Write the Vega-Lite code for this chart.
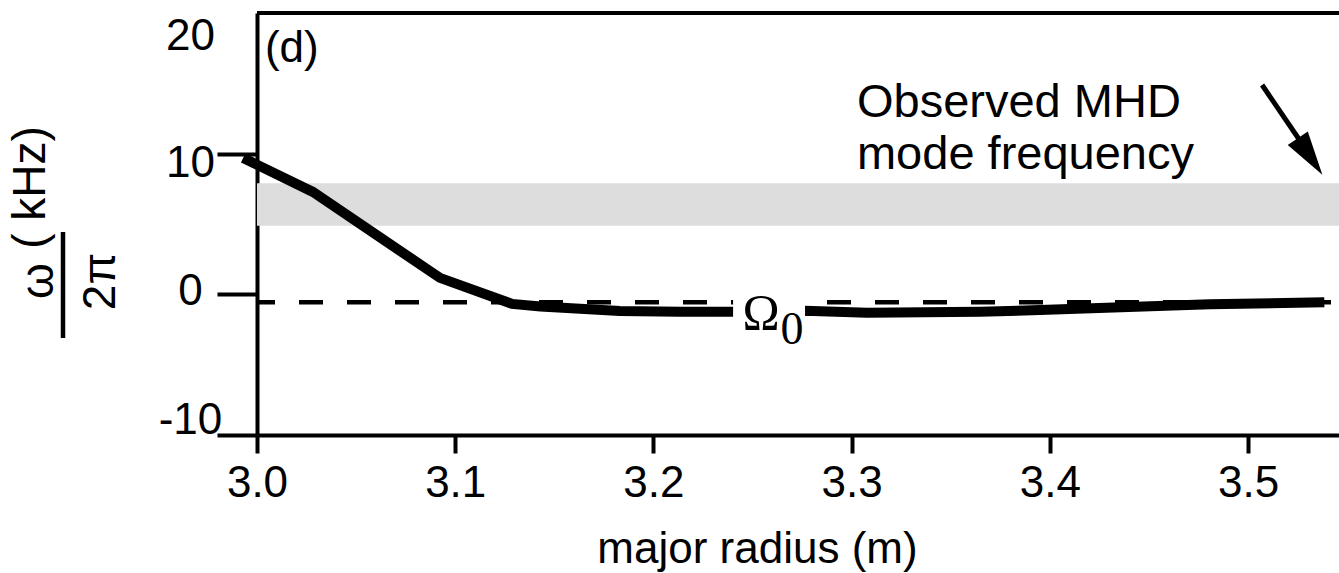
{
  "$schema": "https://vega.github.io/schema/vega-lite/v6.json",
  "width": 1082,
  "height": 422,
  "autosize": {"type": "none"},
  "padding": {"left": 257, "top": 13, "right": 0, "bottom": 138},
  "background": "white",
  "config": {
    "view": {"stroke": null},
    "axis": {
      "domainColor": "#000",
      "tickColor": "#000",
      "labelColor": "#000",
      "titleColor": "#000",
      "domainWidth": 4,
      "tickWidth": 4,
      "labelFont": "Liberation Sans",
      "labelFontSize": 44,
      "titleFont": "Liberation Sans",
      "titleFontSize": 44,
      "titleFontWeight": "normal",
      "grid": false,
      "labelFlush": false,
      "labelOverlap": false,
      "labelBound": false
    }
  },
  "encoding": {
    "x": {
      "field": "x",
      "type": "quantitative",
      "scale": {"domain": [3.0, 3.5459], "nice": false, "zero": false},
      "axis": {
        "values": [3.0, 3.1, 3.2, 3.3, 3.4, 3.5],
        "format": ".1f",
        "title": "major radius (m)",
        "tickSize": 18,
        "labelPadding": 8,
        "titleX": 500,
        "titleY": 127,
        "titleAlign": "center",
        "titleBaseline": "alphabetic"
      }
    },
    "y": {
      "field": "y",
      "type": "quantitative",
      "scale": {"domain": [-10, 20], "nice": false, "zero": false},
      "axis": {
        "values": [-10, 0, 10, 20],
        "labelExpr": "'' + datum.value",
        "title": null,
        "tickSize": 40,
        "labelAlign": "center",
        "labelBaseline": "middle",
        "labelPadding": 27,
        "labelOffset": {
          "condition": [
            {"test": "datum.value == 20", "value": 23},
            {"test": "datum.value == 10", "value": 10},
            {"test": "datum.value == -10", "value": -15}
          ],
          "value": -3
        },
        "tickOpacity": {"condition": {"test": "datum.value == 20", "value": 0}, "value": 1}
      }
    }
  },
  "layer": [
    {
      "data": {"values": [{"x": 3.0, "x2": 3.5459, "y": 4.88, "y2": 7.89}]},
      "mark": {"type": "rect", "color": "#dddddd"},
      "encoding": {"x2": {"field": "x2"}, "y2": {"field": "y2"}}
    },
    {
      "data": {"values": [{"x": 3.0, "x2": 3.5459, "y": -0.57}]},
      "mark": {"type": "rule", "color": "#000", "strokeWidth": 4.5, "strokeDash": [24, 24], "strokeDashOffset": 6},
      "encoding": {"x2": {"field": "x2"}}
    },
    {
      "data": {"values": [
        {"x": 2.993, "y": 9.7},
        {"x": 3.0282, "y": 7.28},
        {"x": 3.0923, "y": 1.17},
        {"x": 3.1287, "y": -0.68},
        {"x": 3.143, "y": -0.87},
        {"x": 3.183, "y": -1.18},
        {"x": 3.2134, "y": -1.23},
        {"x": 3.2402, "y": -1.23},
        {"x": 3.2765, "y": -1.16},
        {"x": 3.3078, "y": -1.31},
        {"x": 3.3648, "y": -1.24},
        {"x": 3.395, "y": -1.12},
        {"x": 3.4808, "y": -0.71},
        {"x": 3.5385, "y": -0.57}
      ]},
      "mark": {"type": "line", "color": "#000", "strokeWidth": 10, "strokeCap": "butt", "strokeJoin": "miter"}
    },
    {
      "data": {"values": [{"x": 3.2402, "x2": 3.2765, "y": -0.2, "y2": -1.75}]},
      "mark": {"type": "rect", "color": "white"},
      "encoding": {"x2": {"field": "x2"}, "y2": {"field": "y2"}}
    },
    {
      "data": {"values": [{"x": 3.2543, "y": -2.464, "label": "Ω"}]},
      "mark": {"type": "text", "font": "Liberation Serif", "fontSize": 50, "align": "center", "baseline": "alphabetic", "color": "#000"},
      "encoding": {"text": {"field": "label"}}
    },
    {
      "data": {"values": [{"x": 3.2699, "y": -3.531, "label": "0"}]},
      "mark": {"type": "text", "font": "Liberation Serif", "fontSize": 46, "align": "center", "baseline": "alphabetic", "color": "#000"},
      "encoding": {"text": {"field": "label"}}
    },
    {
      "data": {"values": [{"x": 3.004, "y": 16.517, "label": "(d)"}]},
      "mark": {"type": "text", "font": "Liberation Sans", "fontSize": 44, "align": "left", "baseline": "alphabetic", "color": "#000"},
      "encoding": {"text": {"field": "label"}}
    },
    {
      "data": {"values": [{"x": 3.3027, "y": 12.628, "label": ["Observed MHD", "mode frequency"]}]},
      "mark": {"type": "text", "font": "Liberation Sans", "fontSize": 47, "lineHeight": 52, "align": "left", "baseline": "alphabetic", "color": "#000"},
      "encoding": {"text": {"field": "label"}}
    },
    {
      "data": {"values": [{"x": 3.5071, "y": 14.882, "x2": 3.5277, "y2": 10.616}]},
      "mark": {"type": "rule", "color": "#000", "strokeWidth": 5},
      "encoding": {"x2": {"field": "x2"}, "y2": {"field": "y2"}}
    },
    {
      "data": {"values": [{"x": 3.5313, "y": 9.799}]},
      "mark": {"type": "point", "shape": "M0,-1L0.55,1L-0.55,1Z", "size": 1936, "angle": 146, "filled": true, "color": "#000", "opacity": 1, "strokeWidth": 0}
    },
    {
      "data": {"values": [{"x": 3.0, "x2": 3.5459, "y": 20}]},
      "mark": {"type": "rule", "color": "#000", "strokeWidth": 4},
      "encoding": {"x2": {"field": "x2"}}
    },
    {
      "data": {"values": [
        {"x": 2.8971, "y": 0.948, "label": "ω"},
        {"x": 2.893, "y": 7.595, "label": "( kHz)"},
        {"x": 2.92836, "y": 0.912, "label": "2π"}
      ]},
      "mark": {"type": "text", "font": "Liberation Sans", "fontSize": 46, "angle": 270, "align": "center", "baseline": "alphabetic", "color": "#000"},
      "encoding": {"text": {"field": "label"}}
    },
    {
      "data": {"values": [{"x": 2.90212, "y": 4.431, "y2": -3.104}]},
      "mark": {"type": "rule", "color": "#000", "strokeWidth": 4.5},
      "encoding": {"y2": {"field": "y2"}}
    }
  ]
}
